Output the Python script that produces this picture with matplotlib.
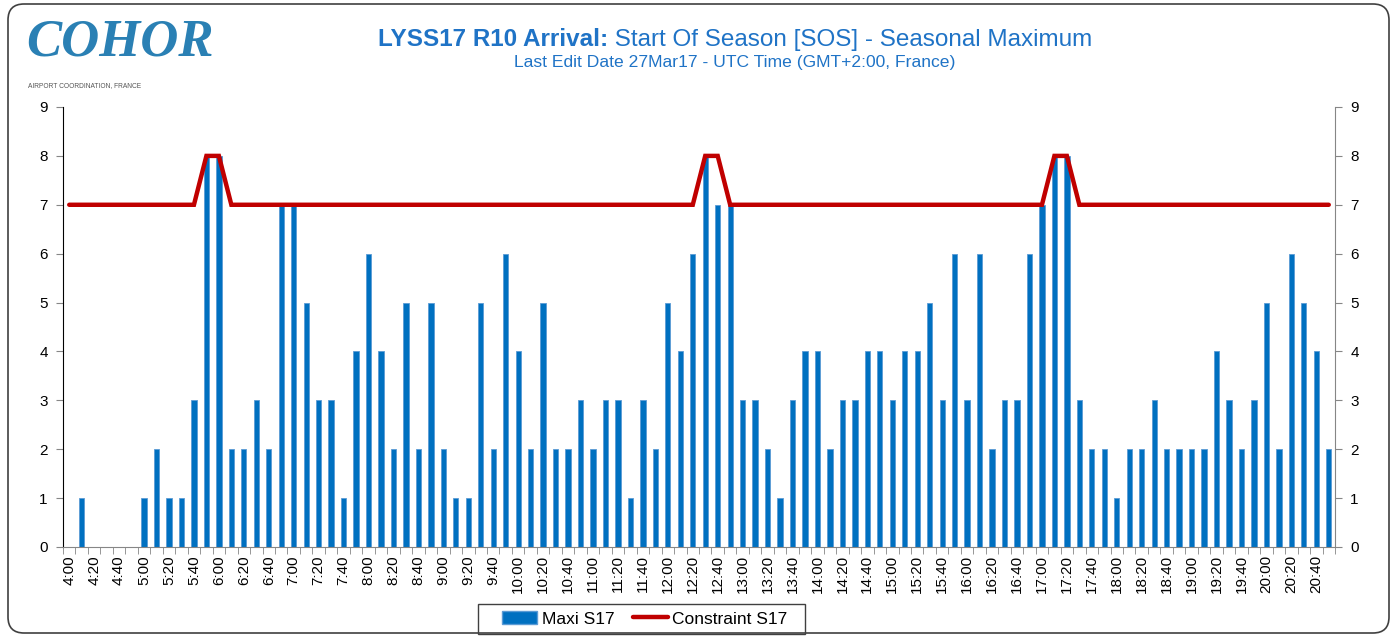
import matplotlib
matplotlib.use("Agg")
import matplotlib.pyplot as plt
from matplotlib.patches import FancyBboxPatch, Patch, Rectangle
from matplotlib.lines import Line2D
from matplotlib.transforms import IdentityTransform

plt.rcParams['font.family'] = ['Liberation Sans', 'DejaVu Sans']

# 10 minute slots, 4:00 .. 20:50
slots = ["%d:%02d" % (h, m) for h in range(4, 21) for m in range(0, 60, 10)]

maxi_s17 = [0, 1, 0, 0, 0, 0, 1, 2, 1, 1,
            3, 8, 8, 2, 2, 3, 2, 7, 7, 5,
            3, 3, 1, 4, 6, 4, 2, 5, 2, 5,
            2, 1, 1, 5, 2, 6, 4, 2, 5, 2,
            2, 3, 2, 3, 3, 1, 3, 2, 5, 4,
            6, 8, 7, 7, 3, 3, 2, 1, 3, 4,
            4, 2, 3, 3, 4, 4, 3, 4, 4, 5,
            3, 6, 3, 6, 2, 3, 3, 6, 7, 8,
            8, 3, 2, 2, 1, 2, 2, 3, 2, 2,
            2, 2, 4, 3, 2, 3, 5, 2, 6, 5,
            4, 2]

constraint_s17 = [7, 7, 7, 7, 7, 7, 7, 7, 7, 7,
                  7, 8, 8, 7, 7, 7, 7, 7, 7, 7,
                  7, 7, 7, 7, 7, 7, 7, 7, 7, 7,
                  7, 7, 7, 7, 7, 7, 7, 7, 7, 7,
                  7, 7, 7, 7, 7, 7, 7, 7, 7, 7,
                  7, 8, 8, 7, 7, 7, 7, 7, 7, 7,
                  7, 7, 7, 7, 7, 7, 7, 7, 7, 7,
                  7, 7, 7, 7, 7, 7, 7, 7, 7, 8,
                  8, 7, 7, 7, 7, 7, 7, 7, 7, 7,
                  7, 7, 7, 7, 7, 7, 7, 7, 7, 7,
                  7, 7]

blue = "#0070C0"
red = "#C00000"
txt_blue = "#1F73C6"

fig = plt.figure(figsize=(13.97, 6.36), dpi=100)
ax = fig.add_axes([63/1397, 1-547/636, (1335-63)/1397, (547-107)/636])

x = list(range(len(slots)))
ax.bar(x, maxi_s17, width=0.42, color=blue, edgecolor="#5B9BD5", linewidth=0.6, zorder=2)
ax.plot(x, constraint_s17, color=red, linewidth=3.2, solid_capstyle="round",
        solid_joinstyle="miter", zorder=3)

ax.set_xlim(-0.5, len(slots) - 0.5)
ax.set_ylim(0, 9)
ax.set_yticks(range(10))
ax.set_xticks(x[::2])
ax.set_xticklabels(slots[::2], rotation=90, fontsize=11)
ax.set_xticks([i - 0.5 for i in range(len(slots) + 1)], minor=True)
ax.tick_params(axis="x", which="major", length=0, pad=6)
ax.tick_params(axis="x", which="minor", length=5, color="#868686", direction="out")
ax.tick_params(axis="y", length=5, color="#868686", labelsize=11, pad=6)

for s in ["top", "right"]:
    ax.spines[s].set_visible(False)
ax.spines["left"].set_color("#000000")
ax.spines["bottom"].set_color("#868686")

ax2 = ax.twinx()
ax2.set_ylim(0, 9)
ax2.set_yticks(range(10))
ax2.tick_params(axis="y", length=5, color="#868686", labelsize=11, pad=6)
for s in ["top", "left", "bottom"]:
    ax2.spines[s].set_visible(False)
ax2.spines["right"].set_color("#868686")

# titles
fig.canvas.draw()
r = fig.canvas.get_renderer()
ty = 1 - 40/636
t1 = fig.text(0, ty, "LYSS17 R10 Arrival:", fontsize=17.5, weight="bold", color=txt_blue,
              ha="left", va="center")
t2 = fig.text(0, ty, " Start Of Season [SOS] - Seasonal Maximum", fontsize=17.5, color=txt_blue,
              ha="left", va="center")
w1 = t1.get_window_extent(r).width
w2 = t2.get_window_extent(r).width
x0 = 735 - (w1 + w2) / 2
t1.set_x(x0 / 1397)
t2.set_x((x0 + w1) / 1397)
fig.text(735/1397, 1 - 63/636, "Last Edit Date 27Mar17 - UTC Time (GMT+2:00, France)",
         fontsize=12.6, color=txt_blue, ha="center", va="center")

# logo
fig.text(26/1397, 1 - 42/636, "COHOR", fontsize=38, style="italic", weight="bold",
         color="#2A80B4", family="Liberation Serif", ha="left", va="center")
fig.text(28/1397, 1 - 86/636, "AIRPORT COORDINATION, FRANCE", fontsize=4.8, color="#555555",
         ha="left", va="center")

# legend (frame drawn separately to get the wide padding)
handles = [Patch(facecolor=blue, edgecolor="#5B9BD5"),
           Line2D([0], [0], color=red, linewidth=3.2, solid_capstyle="round")]
fig.legend(handles, ["Maxi S17", "Constraint S17"], ncol=2, loc="center",
           bbox_to_anchor=(645/1397, 1 - 619/636), fontsize=12.5, frameon=False,
           handlelength=2.0, handletextpad=0.25, columnspacing=1.1, borderpad=0.35)
fig.patches.append(Rectangle((478, 636 - 634), 327, 30, transform=IdentityTransform(),
                             facecolor="none", edgecolor="#404040", linewidth=1))

# outer rounded frame
frame = FancyBboxPatch((8, 3), 1381, 629, boxstyle="round,pad=0,rounding_size=16",
                       transform=IdentityTransform(), facecolor="none",
                       edgecolor="#404040", linewidth=1.2)
fig.patches.append(frame)

fig.savefig("out.png", dpi=100)
